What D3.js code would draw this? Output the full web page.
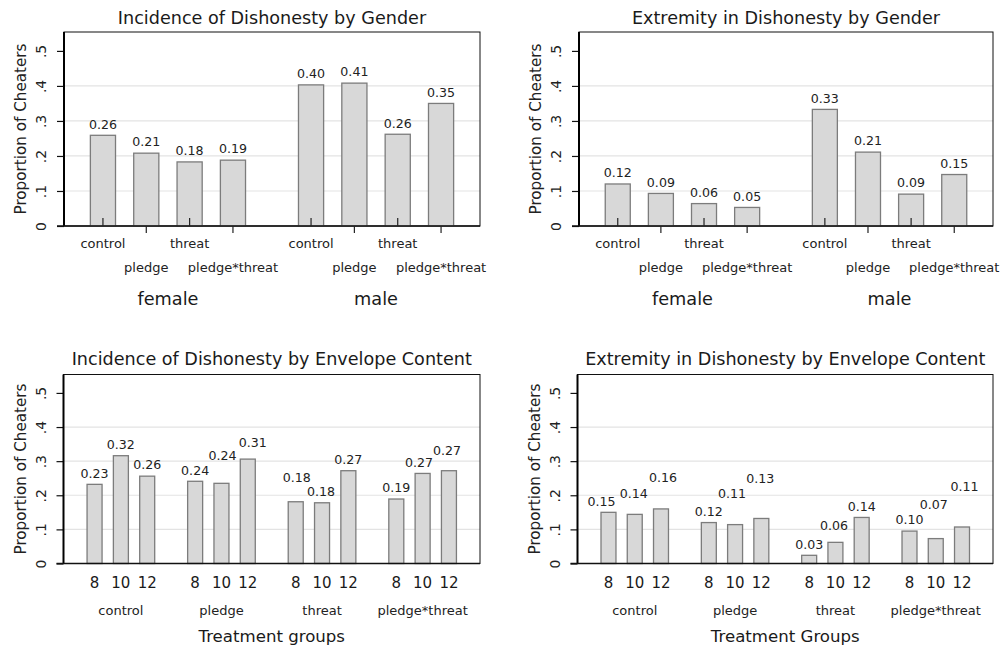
<!DOCTYPE html>
<html>
<head>
<meta charset="utf-8">
<script src="https://cdn.jsdelivr.net/npm/d3@7"></script>
<style>
  html, body { margin: 0; padding: 0; background: #fff; }
  svg { display: block; font-family: "DejaVu Sans", sans-serif; }
</style>
</head>
<body>
<svg id="chart" width="1003" height="650"></svg>
<script>
// ---------------- DATA ----------------
const genders = ["female", "male"];
const treatments = ["control", "pledge", "threat", "pledge*threat"];
const envelopes = ["8", "10", "12"];
const yTickValues = [0, 0.1, 0.2, 0.3, 0.4, 0.5];
const yTickLabels = ["0", ".1", ".2", ".3", ".4", ".5"];
const yMax = 0.554;

// Incidence of dishonesty by gender (female, male) x treatment
const incFemale = [0.259, 0.208, 0.183, 0.188];
const incMale   = [0.403, 0.408, 0.262, 0.350];
const incFemaleLabels = ["0.26", "0.21", "0.18", "0.19"];
const incMaleLabels   = ["0.40", "0.41", "0.26", "0.35"];

// Extremity in dishonesty by gender
const extFemale = [0.120, 0.093, 0.064, 0.053];
const extMale   = [0.333, 0.211, 0.091, 0.147];
const extFemaleLabels = ["0.12", "0.09", "0.06", "0.05"];
const extMaleLabels   = ["0.33", "0.21", "0.09", "0.15"];

// Incidence of dishonesty by envelope content (8, 10, 12) per treatment
const incControl = [0.232, 0.316, 0.256];
const incPledge  = [0.241, 0.235, 0.306];
const incThreat  = [0.181, 0.178, 0.272];
const incPxT     = [0.189, 0.264, 0.272];
const incControlLabels = ["0.23", "0.32", "0.26"];
const incPledgeLabels  = ["0.24", "0.24", "0.31"];
const incThreatLabels  = ["0.18", "0.18", "0.27"];
const incPxTLabels     = ["0.19", "0.27", "0.27"];

// Extremity in dishonesty by envelope content
const extControl = [0.150, 0.144, 0.160];
const extPledge  = [0.120, 0.114, 0.132];
const extThreat  = [0.024, 0.062, 0.135];
const extPxT     = [0.095, 0.073, 0.107];
const extControlLabels = ["0.15", "0.14", "0.16"];
const extPledgeLabels  = ["0.12", "0.11", "0.13"];
const extThreatLabels  = ["0.03", "0.06", "0.14"];
const extPxTLabels     = ["0.10", "0.07", "0.11"];

// ---------------- LAYOUT (label nudges in px: [dx, lift]) ----------------
const incEnvNudge = [
  [[0, 0], [0, 0], [0, 0]],
  [[0, 0], [1, 17], [5, 5]],
  [[1, 13], [-1, 0], [0, 0]],
  [[0, 0], [-3.5, 0], [-2, 9]]
];
const extEnvNudge = [
  [[-7, 0], [-1, 10], [2, 20]],
  [[0, 0], [-3, 20], [-1, 29]],
  [[0, 0], [-1.5, 6], [0, 0]],
  [[0, 0], [-2, 23], [2.5, 29]]
];

const svg = d3.select("#chart");
svg.append("rect").attr("width", 1003).attr("height", 650).attr("fill", "#fff");

function drawPanel(o) {
  const g = svg.append("g");
  const y = d3.scaleLinear().domain([0, yMax]).range([o.yZero, o.yTop]);
  const xo = d3.scaleBand().domain(o.groups).range([o.x0, o.x1])
    .paddingInner(o.padIn).paddingOuter(o.padOut);
  const xi = d3.scaleBand().domain(o.subs).range([0, xo.bandwidth()])
    .paddingInner(o.barPad).paddingOuter(o.barPad / 2);
  const cx = (gr, s) => xo(gr) + xi(s) + xi.bandwidth() / 2;

  // gridlines
  g.append("g").selectAll("line").data(yTickValues.filter(v => v > 0 && v < 0.45))
    .join("line")
    .attr("x1", o.x0).attr("x2", o.x1)
    .attr("y1", d => y(d)).attr("y2", d => y(d))
    .attr("stroke", "#e3e3e3").attr("stroke-width", 1.2);

  // frame (top/right)
  g.append("rect")
    .attr("x", o.x0).attr("y", o.yTop)
    .attr("width", o.x1 - o.x0).attr("height", o.yZero - o.yTop)
    .attr("fill", "none").attr("stroke", "#111").attr("stroke-width", 1);

  // bars
  const data = o.groups.flatMap((gr, gi) => o.subs.map((s, si) => ({
    gr, s, v: o.values[gi][si], lbl: o.labels[gi][si],
    nd: o.nudge ? o.nudge[gi][si] : [0, 0]
  })));
  g.append("g").selectAll("rect").data(data).join("rect")
    .attr("x", d => xo(d.gr) + xi(d.s))
    .attr("width", xi.bandwidth())
    .attr("y", d => y(d.v))
    .attr("height", d => y(0) - y(d.v))
    .attr("fill", "#d8d8d8")
    .attr("stroke", "#7c7c7c")
    .attr("stroke-width", 1.3);

  // value labels
  g.append("g").selectAll("text").data(data).join("text")
    .attr("x", d => cx(d.gr, d.s) + d.nd[0])
    .attr("y", d => y(d.v) - 6.7 - d.nd[1])
    .attr("text-anchor", "middle")
    .attr("font-size", 12.6)
    .attr("fill", "#222")
    .text(d => d.lbl);

  // y axis
  const ya = g.append("g").attr("transform", `translate(${o.x0},0)`)
    .call(d3.axisLeft(y).tickValues(yTickValues).tickSize(7)
      .tickFormat((d, i) => yTickLabels[i]));
  ya.select(".domain").remove();
  ya.selectAll(".tick line").attr("stroke", "#111").attr("stroke-width", 1.2);
  ya.selectAll(".tick text")
    .attr("x", null).attr("dy", null)
    .attr("transform", "translate(-18,0) rotate(-90)")
    .attr("text-anchor", "middle")
    .attr("font-family", "DejaVu Sans")
    .attr("font-size", 14)
    .attr("fill", "#222");
  // left axis line
  g.append("line").attr("x1", o.x0).attr("x2", o.x0)
    .attr("y1", o.yTop).attr("y2", o.yZero)
    .attr("stroke", "#000").attr("stroke-width", 2);
  // baseline
  g.append("line").attr("x1", o.x0 - 7).attr("x2", o.x1)
    .attr("y1", o.yZero).attr("y2", o.yZero)
    .attr("stroke", "#111").attr("stroke-width", 1.5);

  // y axis title
  g.append("text")
    .attr("transform", `translate(${o.x0 - 38},${(o.yTop + o.yZero) / 2}) rotate(-90)`)
    .attr("text-anchor", "middle")
    .attr("font-size", 15.2)
    .attr("fill", "#222")
    .text("Proportion of Cheaters");

  // title
  g.append("text")
    .attr("x", (o.x0 + o.x1) / 2).attr("y", o.titleY)
    .attr("text-anchor", "middle")
    .attr("font-size", 17.6)
    .attr("fill", "#1a1a1a")
    .text(o.title);

  if (o.kind === "gender") {
    // alternating ticks and two-row labels
    const ticks = g.append("g");
    data.forEach((d, k) => {
      const si = o.subs.indexOf(d.s);
      const up = si % 2 === 0;
      const x = cx(d.gr, d.s);
      ticks.append("line")
        .attr("x1", x).attr("x2", x)
        .attr("y1", o.yZero).attr("y2", up ? o.yZero - 8 : o.yZero + 7)
        .attr("stroke", "#222").attr("stroke-width", 1.2);
      ticks.append("text")
        .attr("x", x).attr("y", up ? o.yZero + 21.5 : o.yZero + 45.5)
        .attr("text-anchor", "middle")
        .attr("font-size", 13)
        .attr("fill", "#222")
        .text(d.s);
    });
    g.append("g").selectAll("text").data(o.groups).join("text")
      .attr("x", d => xo(d) + xo.bandwidth() / 2)
      .attr("y", o.yZero + 78.7)
      .attr("text-anchor", "middle")
      .attr("font-size", 17.7)
      .attr("fill", "#1a1a1a")
      .text(d => d);
  } else {
    g.append("g").selectAll("text").data(data).join("text")
      .attr("x", d => cx(d.gr, d.s))
      .attr("y", o.yZero + 24.7)
      .attr("text-anchor", "middle")
      .attr("font-size", 15)
      .attr("fill", "#1a1a1a")
      .text(d => d.s);
    g.append("g").selectAll("text").data(o.groups).join("text")
      .attr("x", d => xo(d) + xo.bandwidth() / 2)
      .attr("y", o.yZero + 51.5)
      .attr("text-anchor", "middle")
      .attr("font-size", 13)
      .attr("fill", "#222")
      .text(d => d);
    g.append("text")
      .attr("x", (o.x0 + o.x1) / 2).attr("y", o.yZero + 78.5)
      .attr("text-anchor", "middle")
      .attr("font-size", 16.6)
      .attr("fill", "#1a1a1a")
      .text(o.xTitle);
  }
}

const genderPad = { padIn: 0.167, padOut: 0.083, barPad: 0.42 };
const envPad = { padIn: 0.215, padOut: 0.178, barPad: 0.43 };

drawPanel(Object.assign({
  kind: "gender", x0: 64, x1: 480, yTop: 32, yZero: 226, titleY: 23.5,
  title: "Incidence of Dishonesty by Gender",
  groups: genders, subs: treatments,
  values: [incFemale, incMale], labels: [incFemaleLabels, incMaleLabels]
}, genderPad));

drawPanel(Object.assign({
  kind: "gender", x0: 579, x1: 993, yTop: 32, yZero: 226, titleY: 23.5,
  title: "Extremity in Dishonesty by Gender",
  groups: genders, subs: treatments,
  values: [extFemale, extMale], labels: [extFemaleLabels, extMaleLabels]
}, genderPad));

drawPanel(Object.assign({
  kind: "env", x0: 63.5, x1: 480, yTop: 374.5, yZero: 563.5, titleY: 365,
  title: "Incidence of Dishonesty by Envelope Content",
  xTitle: "Treatment groups",
  groups: treatments, subs: envelopes,
  values: [incControl, incPledge, incThreat, incPxT],
  labels: [incControlLabels, incPledgeLabels, incThreatLabels, incPxTLabels],
  nudge: incEnvNudge
}, envPad));

drawPanel(Object.assign({
  kind: "env", x0: 577.5, x1: 993, yTop: 374.5, yZero: 563.5, titleY: 365,
  title: "Extremity in Dishonesty by Envelope Content",
  xTitle: "Treatment Groups",
  groups: treatments, subs: envelopes,
  values: [extControl, extPledge, extThreat, extPxT],
  labels: [extControlLabels, extPledgeLabels, extThreatLabels, extPxTLabels],
  nudge: extEnvNudge
}, envPad));
</script>
</body>
</html>
